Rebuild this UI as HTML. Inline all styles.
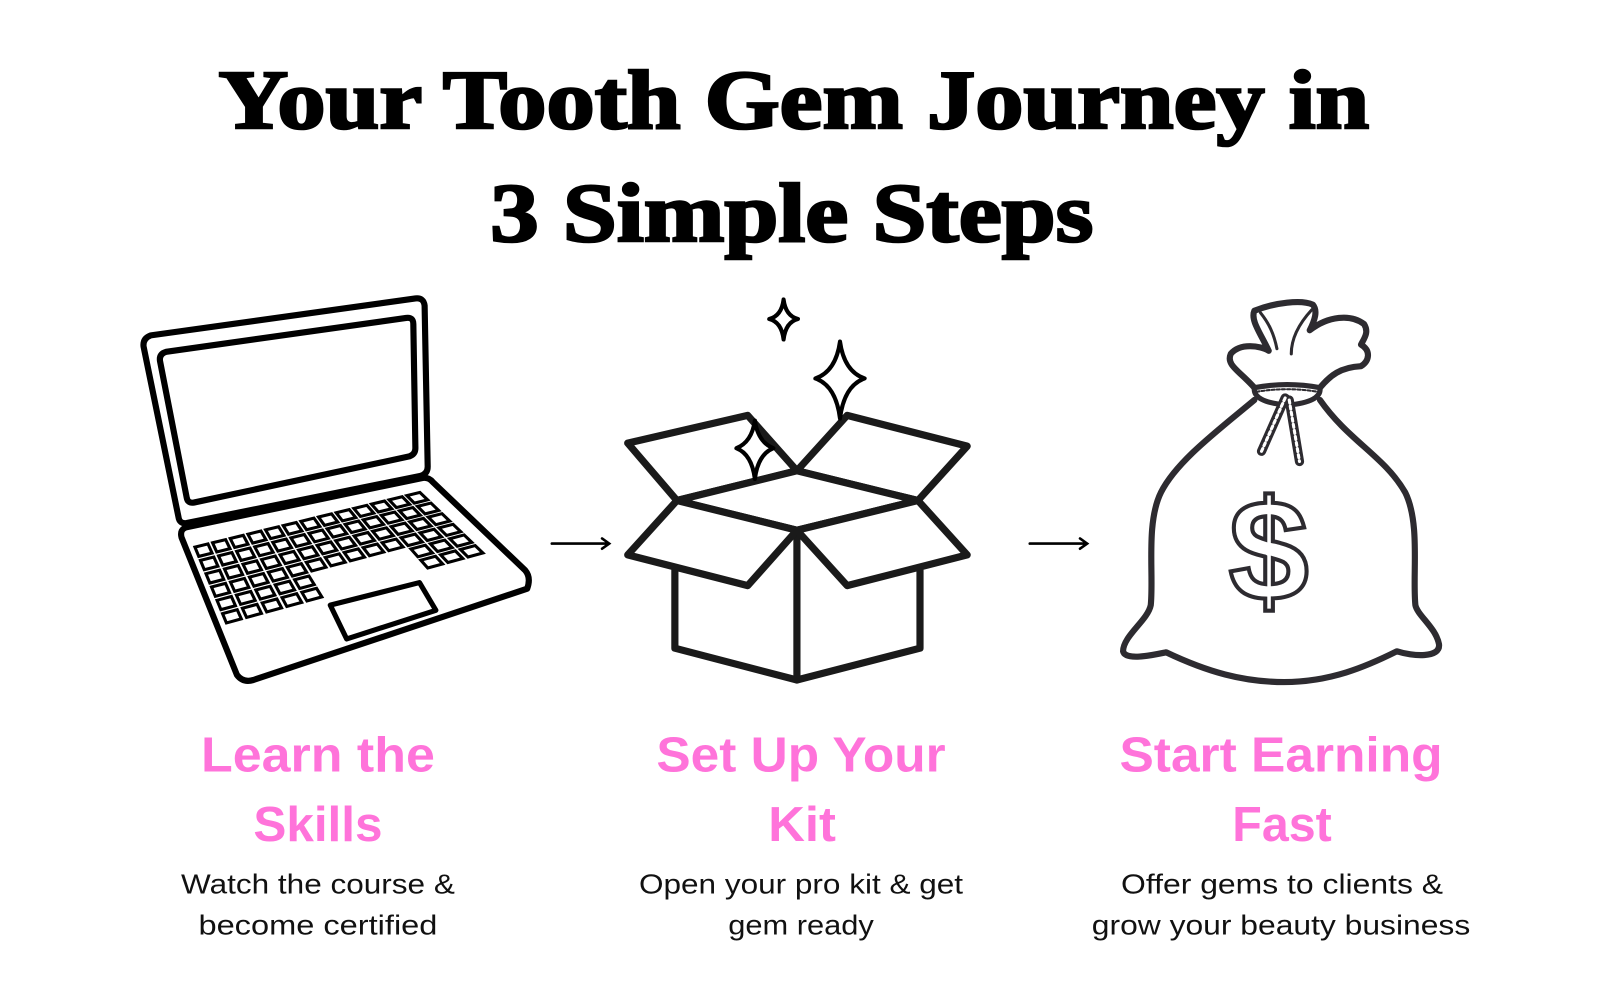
<!DOCTYPE html>
<html><head><meta charset="utf-8">
<style>
html,body{margin:0;padding:0;background:#fff;width:1600px;height:1000px;overflow:hidden}
svg{display:block}
.t{font-family:"Liberation Serif",serif;font-weight:bold;fill:#000;stroke:#000;stroke-width:2.5}
.p{font-family:"Liberation Sans",sans-serif;font-weight:bold;fill:#ff73da}
.d{font-family:"Liberation Sans",sans-serif;fill:#111}
</style></head><body>
<svg width="1600" height="1000" viewBox="0 0 1560 975" xmlns="http://www.w3.org/2000/svg">
<g transform="translate(-3,0)">
<!-- Title -->
<text class="t" x="777" y="125" font-size="82" text-anchor="middle" textLength="1122" lengthAdjust="spacingAndGlyphs">Your Tooth Gem Journey in</text>
<text class="t" x="775" y="235" font-size="82" text-anchor="middle" textLength="588" lengthAdjust="spacingAndGlyphs">3 Simple Steps</text>

<!-- Laptop -->
<g fill="none" stroke="#000" stroke-width="6" stroke-linejoin="round" stroke-linecap="round">
<path d="M150,327 L408,291 Q416,290 417,298 L420,455 Q420,462 413,464 L185,510 Q178,511 177,504 L143,338 Q142,330 150,327 Z"/>
<path d="M165,343 L399,310 Q406,309 406,316 L408,437 Q408,443 402,445 L192,490 Q186,491 185,485 L159,352 Q158,345 165,343 Z"/>
<path d="M185,514 L415,466 Q421,465 425,470 L515,556 Q521,563 517,574 L250,663 Q240,666 234,658 L180,524 Q178,516 185,514 Z"/>
<path d="M325,590 L412,568 L428,595 L341,623 Z" stroke-width="5"/>
</g>
<g id="keys" fill="#fff" stroke="#000" stroke-width="3"></g>

<!-- arrows -->
<g stroke="#000" stroke-width="2.5" fill="none" stroke-linecap="round">
<path d="M541,530 L596,530 M590,525 L597,530 L590,535"/>
<path d="M1007,530 L1062,530 M1056,525 L1063,530 L1056,535"/>
</g>

<!-- Box -->
<g fill="#fff" stroke="#1a1a1a" stroke-width="7" stroke-linejoin="round" stroke-linecap="round">
<path d="M661,556 L661,632 L780,663 L900,632 L900,556"/>
<path d="M780,517 L780,663"/>
<path d="M663,488 L615,432 L732,405 L780,459 Z"/>
<path d="M780,459 L829,405 L946,435 L898,488 Z"/>
<path d="M663,488 L780,459 L898,488 L780,517 Z"/>
<path d="M663,488 L615,541 L732,571 L780,517 Z"/>
<path d="M780,517 L829,571 L946,541 L898,488 Z"/>
</g>
<g fill="#fff" stroke="#000" stroke-width="4" stroke-linejoin="round">
<path d="M767,292 Q769,308 781,311 Q769,314 767,331 Q765,314 753,311 Q765,308 767,292 Z"/>
<path d="M822,333 Q826,362 846,369 Q826,376 822,408 Q818,376 798,369 Q818,362 822,333 Z"/>
<path d="M739,410 Q742,431 757,437 Q742,443 739,467 Q736,443 721,437 Q736,431 739,410 Z"/>
</g>

<!-- Money bag -->
<g fill="none" stroke="#2d2b30" stroke-width="6" stroke-linejoin="round" stroke-linecap="round">
<path d="M1226,390 C1190,420 1150,450 1135,480 C1120,510 1128,560 1125,590 C1122,605 1098,620 1098,635 C1100,645 1130,638 1140,636 C1180,655 1215,665 1255,665 C1300,665 1335,650 1365,635 C1380,640 1408,642 1406,628 C1403,612 1385,600 1383,590 C1380,560 1388,510 1373,480 C1353,445 1318,430 1290,390"/>
<path d="M1226,378 C1212,362 1198,356 1203,345 C1212,334 1232,337 1240,342 C1232,325 1222,312 1226,303 C1246,295 1272,292 1283,297 C1288,303 1285,312 1280,322 C1298,308 1320,306 1333,316 C1338,324 1333,330 1330,336 C1340,342 1338,352 1330,357 C1310,358 1300,366 1290,378"/>
<path d="M1262,345 C1262,330 1270,315 1282,302" stroke-width="3"/>
<path d="M1248,340 C1245,325 1240,315 1232,305" stroke-width="3"/>
<path d="M1226,378 Q1258,372 1290,378 Q1292,392 1258,395 Q1224,392 1226,378 Z" stroke-width="5"/>
<path d="M1256,388 L1233,440 M1260,390 L1270,450" stroke-width="9"/>
<path d="M1256,388 L1233,440 M1260,390 L1270,450" stroke="#fff" stroke-width="3" stroke-dasharray="3 3"/>
<path d="M1228,382 Q1258,377 1288,382" stroke-width="2" stroke-dasharray="3 2"/>
</g>
<text x="1240" y="585" font-family="Liberation Sans,sans-serif" font-weight="bold" font-size="140" text-anchor="middle" fill="#fff" stroke="#2d2b30" stroke-width="4">$</text>

<!-- Labels -->
<g class="p" font-size="48" text-anchor="middle">
<text x="313" y="752" textLength="228" lengthAdjust="spacingAndGlyphs">Learn the</text>
<text x="313" y="820" textLength="126" lengthAdjust="spacingAndGlyphs">Skills</text>
<text x="784" y="752" textLength="282" lengthAdjust="spacingAndGlyphs">Set Up Your</text>
<text x="785" y="820" textLength="66" lengthAdjust="spacingAndGlyphs">Kit</text>
<text x="1252" y="752" textLength="315" lengthAdjust="spacingAndGlyphs">Start Earning</text>
<text x="1253" y="820" textLength="97" lengthAdjust="spacingAndGlyphs">Fast</text>
</g>
<g class="d" font-size="27" text-anchor="middle">
<text x="313" y="871" textLength="267" lengthAdjust="spacingAndGlyphs">Watch the course &amp;</text>
<text x="313" y="911" textLength="233" lengthAdjust="spacingAndGlyphs">become certified</text>
<text x="784" y="871" textLength="316" lengthAdjust="spacingAndGlyphs">Open your pro kit &amp; get</text>
<text x="784" y="911" textLength="142" lengthAdjust="spacingAndGlyphs">gem ready</text>
<text x="1253" y="871" textLength="314" lengthAdjust="spacingAndGlyphs">Offer gems to clients &amp;</text>
<text x="1252" y="911" textLength="369" lengthAdjust="spacingAndGlyphs">grow your beauty business</text>
</g>
</g>
</svg>
<script>
(function(){
var g=document.getElementById('keys');
var TL=[190,532],TR=[413,478],BR=[478,540],BL=[222,610];
function P(u,v){var x1=TL[0]+(TR[0]-TL[0])*u,y1=TL[1]+(TR[1]-TL[1])*u,x2=BL[0]+(BR[0]-BL[0])*u,y2=BL[1]+(BR[1]-BL[1])*u;return [x1+(x2-x1)*v,y1+(y2-y1)*v];}
var rows=6,cols=13,s='';
for(var r=0;r<rows;r++){for(var c=0;c<cols;c++){
 if(r>=4&&c>=5&&c<=9)continue;
 var u0=c/cols+0.01,u1=(c+1)/cols-0.01,v0=r/rows+0.025,v1=(r+1)/rows-0.025;
 var a=P(u0,v0),b=P(u1,v0),d=P(u1,v1),e=P(u0,v1);
 s+='<path d="M'+a+' L'+b+' L'+d+' L'+e+' Z"/>';
}}
g.innerHTML=s;
})();
</script>
</body></html>
